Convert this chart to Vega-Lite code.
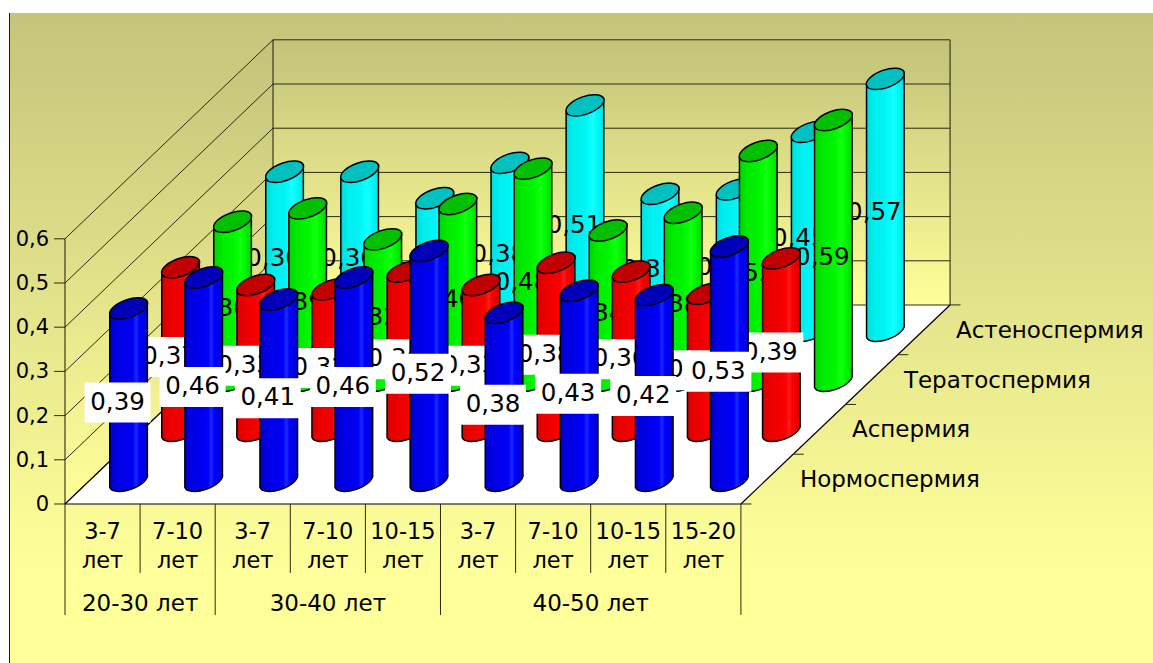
{
  "$schema": "https://vega.github.io/schema/vega-lite/v6.json",
  "width": 1153,
  "height": 663,
  "padding": 0,
  "autosize": {"type": "none"},
  "background": "white",
  "config": {
    "view": {"stroke": null},
    "font": "DejaVu Sans",
    "text": {"font": "DejaVu Sans", "color": "black"}
  },
  "datasets": {
    "bars": [
      {"group":"20-30 лет","period":"3-7 лет","slot":0,"series":"Нормоспермия","depth":0,"value":0.39},
      {"group":"20-30 лет","period":"7-10 лет","slot":1,"series":"Нормоспермия","depth":0,"value":0.46},
      {"group":"30-40 лет","period":"3-7 лет","slot":2,"series":"Нормоспермия","depth":0,"value":0.41},
      {"group":"30-40 лет","period":"7-10 лет","slot":3,"series":"Нормоспермия","depth":0,"value":0.46},
      {"group":"30-40 лет","period":"10-15 лет","slot":4,"series":"Нормоспермия","depth":0,"value":0.52},
      {"group":"40-50 лет","period":"3-7 лет","slot":5,"series":"Нормоспермия","depth":0,"value":0.38},
      {"group":"40-50 лет","period":"7-10 лет","slot":6,"series":"Нормоспермия","depth":0,"value":0.43},
      {"group":"40-50 лет","period":"10-15 лет","slot":7,"series":"Нормоспермия","depth":0,"value":0.42},
      {"group":"40-50 лет","period":"15-20 лет","slot":8,"series":"Нормоспермия","depth":0,"value":0.53},
      {"group":"20-30 лет","period":"3-7 лет","slot":0,"series":"Аспермия","depth":1,"value":0.37},
      {"group":"20-30 лет","period":"7-10 лет","slot":1,"series":"Аспермия","depth":1,"value":0.33},
      {"group":"30-40 лет","period":"3-7 лет","slot":2,"series":"Аспермия","depth":1,"value":0.32},
      {"group":"30-40 лет","period":"7-10 лет","slot":3,"series":"Аспермия","depth":1,"value":0.36},
      {"group":"30-40 лет","period":"10-15 лет","slot":4,"series":"Аспермия","depth":1,"value":0.33},
      {"group":"40-50 лет","period":"3-7 лет","slot":5,"series":"Аспермия","depth":1,"value":0.38},
      {"group":"40-50 лет","period":"7-10 лет","slot":6,"series":"Аспермия","depth":1,"value":0.36},
      {"group":"40-50 лет","period":"10-15 лет","slot":7,"series":"Аспермия","depth":1,"value":0.31},
      {"group":"40-50 лет","period":"15-20 лет","slot":8,"series":"Аспермия","depth":1,"value":0.39},
      {"group":"20-30 лет","period":"3-7 лет","slot":0,"series":"Тератоспермия","depth":2,"value":0.36},
      {"group":"20-30 лет","period":"7-10 лет","slot":1,"series":"Тератоспермия","depth":2,"value":0.39},
      {"group":"30-40 лет","period":"3-7 лет","slot":2,"series":"Тератоспермия","depth":2,"value":0.32},
      {"group":"30-40 лет","period":"7-10 лет","slot":3,"series":"Тератоспермия","depth":2,"value":0.4},
      {"group":"30-40 лет","period":"10-15 лет","slot":4,"series":"Тератоспермия","depth":2,"value":0.48},
      {"group":"40-50 лет","period":"3-7 лет","slot":5,"series":"Тератоспермия","depth":2,"value":0.34},
      {"group":"40-50 лет","period":"7-10 лет","slot":6,"series":"Тератоспермия","depth":2,"value":0.38},
      {"group":"40-50 лет","period":"10-15 лет","slot":7,"series":"Тератоспермия","depth":2,"value":0.52},
      {"group":"40-50 лет","period":"15-20 лет","slot":8,"series":"Тератоспермия","depth":2,"value":0.59},
      {"group":"20-30 лет","period":"3-7 лет","slot":0,"series":"Астеноспермия","depth":3,"value":0.36},
      {"group":"20-30 лет","period":"7-10 лет","slot":1,"series":"Астеноспермия","depth":3,"value":0.36},
      {"group":"30-40 лет","period":"3-7 лет","slot":2,"series":"Астеноспермия","depth":3,"value":0.3},
      {"group":"30-40 лет","period":"7-10 лет","slot":3,"series":"Астеноспермия","depth":3,"value":0.38},
      {"group":"30-40 лет","period":"10-15 лет","slot":4,"series":"Астеноспермия","depth":3,"value":0.51},
      {"group":"40-50 лет","period":"3-7 лет","slot":5,"series":"Астеноспермия","depth":3,"value":0.31},
      {"group":"40-50 лет","period":"7-10 лет","slot":6,"series":"Астеноспермия","depth":3,"value":0.32},
      {"group":"40-50 лет","period":"10-15 лет","slot":7,"series":"Астеноспермия","depth":3,"value":0.45},
      {"group":"40-50 лет","period":"15-20 лет","slot":8,"series":"Астеноспермия","depth":3,"value":0.57}
    ],
    "periods": [
      {"period":"3-7 лет","slot":0},{"period":"7-10 лет","slot":1},{"period":"3-7 лет","slot":2},
      {"period":"7-10 лет","slot":3},{"period":"10-15 лет","slot":4},{"period":"3-7 лет","slot":5},
      {"period":"7-10 лет","slot":6},{"period":"10-15 лет","slot":7},{"period":"15-20 лет","slot":8}
    ],
    "groups": [
      {"group":"20-30 лет","first":0,"last":2},
      {"group":"30-40 лет","first":2,"last":5},
      {"group":"40-50 лет","first":5,"last":9}
    ],
    "edges": [
      {"slot":0,"kind":"group"},{"slot":1,"kind":"period"},{"slot":2,"kind":"group"},{"slot":3,"kind":"period"},
      {"slot":4,"kind":"period"},{"slot":5,"kind":"group"},{"slot":6,"kind":"period"},{"slot":7,"kind":"period"},
      {"slot":8,"kind":"period"},{"slot":9,"kind":"group"}
    ],
    "levels": [{"level":0},{"level":0.1},{"level":0.2},{"level":0.3},{"level":0.4},{"level":0.5},{"level":0.6}],
    "seriesNames": [
      {"series":"Нормоспермия","depth":0},{"series":"Аспермия","depth":1},
      {"series":"Тератоспермия","depth":2},{"series":"Астеноспермия","depth":3}
    ],
    "depthTicks": [{"depth":0},{"depth":1},{"depth":2},{"depth":3},{"depth":4}],
    "backdrop": [{"slot":-0.739,"low":-0.35973,"high":1.1109},{"slot":14.48735,"low":-0.35973,"high":1.1109}],
    "sideWall": [{"slot":0,"low":0,"high":0.6},{"slot":2.77,"low":0.4502,"high":1.0502}],
    "backWall": [{"slot":2.77,"low":0.4502,"high":1.0502},{"slot":11.785,"low":0.4502,"high":1.0502}],
    "floor": [
      {"slot":0,"low":0,"high":0},{"slot":2.77,"low":0,"high":0.4502},
      {"slot":9,"low":0,"high":0.4502},{"slot":11.785,"low":0.4502,"high":0.4502}
    ],
    "verticals": [
      {"slot":-0.739,"low":-0.35973,"high":1.1109},
      {"slot":0,"low":0,"high":0.6},
      {"slot":2.77,"low":0.4502,"high":1.0502},
      {"slot":11.785,"low":0.4502,"high":1.0502}
    ],
    "floorEdges": [
      {"a":0,"b":9,"low":0,"high":0},{"a":9,"b":11.785,"low":0,"high":0.4502},{"a":0,"b":2.77,"low":0,"high":0.4502}
    ]
  },
  "layer": [
    {
      "data": {"name":"backdrop"},
      "mark": {"type":"area","color":{"gradient":"linear","x1":0,"y1":0,"x2":0,"y2":1,"stops":[{"offset":0,"color":"#c4c47c"},{"offset":0.85,"color":"#ffff99"},{"offset":1,"color":"#ffff99"}]}},
      "encoding": {
        "x":{"field":"slot","type":"quantitative","axis":null,"scale":{"domain":[-0.86551,14.48735],"nice":false,"zero":false}},
        "y":{"field":"high","type":"quantitative","axis":null,"scale":{"domain":[-0.35973,1.14027],"nice":false,"zero":false}},
        "y2":{"field":"low"}
      }
    },
    {
      "data": {"name":"sideWall"},
      "mark": {"type":"area","color":{"gradient":"linear","x1":0,"y1":0,"x2":0,"y2":1,"stops":[{"offset":0,"color":"#c2c27a"},{"offset":1,"color":"#ffff99"}]}},
      "encoding": {
        "x":{"field":"slot","type":"quantitative","axis":null},
        "y":{"field":"high","type":"quantitative","axis":null},
        "y2":{"field":"low"}
      }
    },
    {
      "data": {"name":"backWall"},
      "mark": {"type":"area","color":{"gradient":"linear","x1":0,"y1":0,"x2":0,"y2":1,"stops":[{"offset":0,"color":"#c2c27a"},{"offset":1,"color":"#ffff99"}]}},
      "encoding": {
        "x":{"field":"slot","type":"quantitative","axis":null},
        "y":{"field":"high","type":"quantitative","axis":null},
        "y2":{"field":"low"}
      }
    },
    {
      "data": {"name":"floor"},
      "mark": {"type":"area","color":"#ffffff"},
      "encoding": {
        "x":{"field":"slot","type":"quantitative","axis":null},
        "y":{"field":"high","type":"quantitative","axis":null},
        "y2":{"field":"low"}
      }
    },
    {
      "data": {"name":"levels"},
      "transform": [{"calculate":"datum.level+0.4502","as":"far"}],
      "mark": {"type":"rule","color":"#2b2b12","strokeWidth":1},
      "encoding": {
        "x":{"datum":0,"type":"quantitative","axis":null},"x2":{"datum":2.77},
        "y":{"field":"level","type":"quantitative","axis":null},
        "y2":{"field":"far"}
      }
    },
    {
      "data": {"name":"levels"},
      "transform": [{"calculate":"datum.level+0.4502","as":"far"}],
      "mark": {"type":"rule","color":"#2b2b12","strokeWidth":1},
      "encoding": {
        "x":{"datum":2.77,"type":"quantitative","axis":null},"x2":{"datum":11.785},
        "y":{"field":"far","type":"quantitative","axis":null}
      }
    },
    {
      "data": {"name":"levels"},
      "mark": {"type":"rule","color":"#2b2b12","strokeWidth":1},
      "encoding": {
        "x":{"datum":-0.146,"type":"quantitative","axis":null},"x2":{"datum":0},
        "y":{"field":"level","type":"quantitative","axis":null}
      }
    },
    {
      "data": {"name":"levels"},
      "transform": [
        {"calculate":"datum.level===0?'0':replace(format(datum.level,'.1f'),'.',',')","as":"tickText"},
        {"calculate":"-0.146","as":"labelAt"}
      ],
      "mark": {"type":"text","fontSize":21,"align":"right","baseline":"middle","dx":-5,"dy":1},
      "encoding": {
        "x":{"field":"labelAt","type":"quantitative","axis":null},
        "y":{"field":"level","type":"quantitative","axis":null},
        "text":{"field":"tickText","type":"nominal"}
      }
    },
    {
      "data": {"name":"verticals"},
      "mark": {"type":"rule","color":"#1a1a0a","strokeWidth":1},
      "encoding": {
        "x":{"field":"slot","type":"quantitative","axis":null},
        "y":{"field":"low","type":"quantitative","axis":null},
        "y2":{"field":"high"}
      }
    },
    {
      "data": {"name":"floorEdges"},
      "mark": {"type":"rule","color":"#000000","strokeWidth":1.2},
      "encoding": {
        "x":{"field":"a","type":"quantitative","axis":null},"x2":{"field":"b"},
        "y":{"field":"low","type":"quantitative","axis":null},"y2":{"field":"high"}
      }
    },
    {
      "data": {"name":"depthTicks"},
      "transform": [
        {"calculate":"9+datum.depth*0.6962","as":"from"},
        {"calculate":"datum.from+0.14","as":"to"},
        {"calculate":"datum.depth*0.1126","as":"at"}
      ],
      "mark": {"type":"rule","color":"#2b2b12","strokeWidth":1},
      "encoding": {
        "x":{"field":"from","type":"quantitative","axis":null},"x2":{"field":"to"},
        "y":{"field":"at","type":"quantitative","axis":null}
      }
    },
    {
      "data": {"name":"edges"},
      "transform": [
        {"calculate":"0","as":"start"},
        {"calculate":"datum.kind==='group'?-0.251:-0.156","as":"bottom"}
      ],
      "mark": {"type":"rule","color":"#2b2b12","strokeWidth":1},
      "encoding": {
        "x":{"field":"slot","type":"quantitative","axis":null},
        "y":{"field":"start","type":"quantitative","axis":null},
        "y2":{"field":"bottom"}
      }
    },
    {
      "data": {"name":"periods"},
      "transform": [
        {"calculate":"datum.slot+0.5","as":"mid"},
        {"calculate":"-0.0633","as":"row"}
      ],
      "mark": {"type":"text","fontSize":22.5,"lineBreak":" ","lineHeight":29,"baseline":"middle","align":"center"},
      "encoding": {
        "x":{"field":"mid","type":"quantitative","axis":null},
        "y":{"field":"row","type":"quantitative","axis":null},
        "text":{"field":"period","type":"nominal"}
      }
    },
    {
      "data": {"name":"groups"},
      "transform": [
        {"calculate":"(datum.first+datum.last)/2","as":"mid"},
        {"calculate":"-0.2262","as":"row"}
      ],
      "mark": {"type":"text","fontSize":23,"baseline":"middle","align":"center"},
      "encoding": {
        "x":{"field":"mid","type":"quantitative","axis":null},
        "y":{"field":"row","type":"quantitative","axis":null},
        "text":{"field":"group","type":"nominal"}
      }
    },
    {
      "data": {"name":"seriesNames"},
      "transform": [
        {"calculate":"9+(datum.depth+0.5)*0.6924","as":"px"},
        {"calculate":"(datum.depth+0.5)*0.1126","as":"py"}
      ],
      "mark": {"type":"text","fontSize":23,"baseline":"middle","align":"left","dx":33,"dy":1},
      "encoding": {
        "x":{"field":"px","type":"quantitative","axis":null},
        "y":{"field":"py","type":"quantitative","axis":null},
        "text":{"field":"series","type":"nominal"}
      }
    },
    {
      "data": {"name":"bars"},
      "transform": [
        {"calculate":"datum.slot+0.5+(datum.depth+0.5)*0.6924","as":"px"},
        {"calculate":"(datum.depth+0.5)*0.1131-0.004","as":"base"},
        {"calculate":"datum.base+datum.value","as":"top"},
        {"calculate":"datum.base+datum.value/2","as":"mid"},
        {"calculate":"datum.value*442","as":"h"},
        {"calculate":"'M-18.8,6.5L-18.8,'+(6.5-datum.h)+'L18.8,'+(-6.5-datum.h)+'L18.8,-6.5C20.18,-1.81 12.88,4.91 2.5,8.5C-7.88,12.09 -17.42,11.19 -18.8,6.5Z'","as":"barPath"},
        {"calculate":"replace(format(datum.value,'.2f'),'.',',')","as":"label"}
      ],
      "encoding": {"x":{"field":"px","type":"quantitative","axis":null}},
      "layer": [
        {
          "transform":[{"filter":"datum.depth===3"}],
          "mark":{"type":"point","filled":true,"opacity":1,"size":4,"stroke":"#000000","strokeWidth":1.5,
            "fill":{"gradient":"linear","x1":0,"y1":0,"x2":1,"y2":0,"stops":[{"offset":0,"color":"#00dcdc"},{"offset":0.2,"color":"#00eeee"},{"offset":0.5,"color":"#00f4f4"},{"offset":0.62,"color":"#00ffff"},{"offset":0.7,"color":"#18ffff"},{"offset":0.78,"color":"#00ffff"},{"offset":1,"color":"#00e0e0"}]}},
          "encoding":{"y":{"field":"base","type":"quantitative","axis":null},"shape":{"field":"barPath","type":"nominal","scale":null,"legend":null}}
        },
        {
          "transform":[{"filter":"datum.depth===3"}],
          "mark":{"type":"point","filled":true,"opacity":1,"size":4,"stroke":"#000000","strokeWidth":1.5,"fill":"#00c0c0",
            "shape":"M18.8,-6.5C20.18,-1.81 12.88,4.91 2.5,8.5C-7.88,12.09 -17.42,11.19 -18.8,6.5C-20.18,1.81 -12.88,-4.91 -2.5,-8.5C7.88,-12.09 17.42,-11.19 18.8,-6.5Z"},
          "encoding":{"y":{"field":"top","type":"quantitative","axis":null}}
        },
        {
          "transform":[{"filter":"datum.depth===3"}],
          "mark":{"type":"text","fontSize":24.5,"dx":-11,"dy":8,"baseline":"middle","align":"center"},
          "encoding":{"y":{"field":"mid","type":"quantitative","axis":null},"text":{"field":"label","type":"nominal"}}
        },
        {
          "transform":[{"filter":"datum.depth===2"}],
          "mark":{"type":"point","filled":true,"opacity":1,"size":4,"stroke":"#000000","strokeWidth":1.5,
            "fill":{"gradient":"linear","x1":0,"y1":0,"x2":1,"y2":0,"stops":[{"offset":0,"color":"#00d400"},{"offset":0.2,"color":"#00ea00"},{"offset":0.5,"color":"#00f400"},{"offset":0.62,"color":"#00ff00"},{"offset":0.7,"color":"#18ff18"},{"offset":0.78,"color":"#00ff00"},{"offset":1,"color":"#00d800"}]}},
          "encoding":{"y":{"field":"base","type":"quantitative","axis":null},"shape":{"field":"barPath","type":"nominal","scale":null,"legend":null}}
        },
        {
          "transform":[{"filter":"datum.depth===2"}],
          "mark":{"type":"point","filled":true,"opacity":1,"size":4,"stroke":"#000000","strokeWidth":1.5,"fill":"#00c000",
            "shape":"M18.8,-6.5C20.18,-1.81 12.88,4.91 2.5,8.5C-7.88,12.09 -17.42,11.19 -18.8,6.5C-20.18,1.81 -12.88,-4.91 -2.5,-8.5C7.88,-12.09 17.42,-11.19 18.8,-6.5Z"},
          "encoding":{"y":{"field":"top","type":"quantitative","axis":null}}
        },
        {
          "transform":[{"filter":"datum.depth===2"}],
          "mark":{"type":"text","fontSize":24.5,"dx":-11,"dy":8,"baseline":"middle","align":"center"},
          "encoding":{"y":{"field":"mid","type":"quantitative","axis":null},"text":{"field":"label","type":"nominal"}}
        },
        {
          "transform":[{"filter":"datum.depth===1"}],
          "mark":{"type":"point","filled":true,"opacity":1,"size":4,"stroke":"#000000","strokeWidth":1.5,
            "fill":{"gradient":"linear","x1":0,"y1":0,"x2":1,"y2":0,"stops":[{"offset":0,"color":"#d80000"},{"offset":0.2,"color":"#ea0000"},{"offset":0.5,"color":"#f40000"},{"offset":0.62,"color":"#ff0000"},{"offset":0.7,"color":"#ff1c1c"},{"offset":0.78,"color":"#ff0000"},{"offset":1,"color":"#d80000"}]}},
          "encoding":{"y":{"field":"base","type":"quantitative","axis":null},"shape":{"field":"barPath","type":"nominal","scale":null,"legend":null}}
        },
        {
          "transform":[{"filter":"datum.depth===1"}],
          "mark":{"type":"point","filled":true,"opacity":1,"size":4,"stroke":"#000000","strokeWidth":1.5,"fill":"#c00000",
            "shape":"M18.8,-6.5C20.18,-1.81 12.88,4.91 2.5,8.5C-7.88,12.09 -17.42,11.19 -18.8,6.5C-20.18,1.81 -12.88,-4.91 -2.5,-8.5C7.88,-12.09 17.42,-11.19 18.8,-6.5Z"},
          "encoding":{"y":{"field":"top","type":"quantitative","axis":null}}
        },
        {
          "transform":[{"filter":"datum.depth===1"}],
          "mark":{"type":"point","filled":true,"opacity":1,"size":4,"strokeWidth":0,"fill":"#ffffff","shape":"M-44,-12H22V28H-44Z"},
          "encoding":{"y":{"field":"mid","type":"quantitative","axis":null}}
        },
        {
          "transform":[{"filter":"datum.depth===1"}],
          "mark":{"type":"text","fontSize":24.5,"dx":-11,"dy":8,"baseline":"middle","align":"center"},
          "encoding":{"y":{"field":"mid","type":"quantitative","axis":null},"text":{"field":"label","type":"nominal"}}
        },
        {
          "transform":[{"filter":"datum.depth===0"}],
          "mark":{"type":"point","filled":true,"opacity":1,"size":4,"stroke":"#000000","strokeWidth":1.5,
            "fill":{"gradient":"linear","x1":0,"y1":0,"x2":1,"y2":0,"stops":[{"offset":0,"color":"#0000cc"},{"offset":0.2,"color":"#0000e4"},{"offset":0.5,"color":"#0000f0"},{"offset":0.62,"color":"#0000ff"},{"offset":0.7,"color":"#1a2cff"},{"offset":0.78,"color":"#0000ff"},{"offset":1,"color":"#0000d0"}]}},
          "encoding":{"y":{"field":"base","type":"quantitative","axis":null},"shape":{"field":"barPath","type":"nominal","scale":null,"legend":null}}
        },
        {
          "transform":[{"filter":"datum.depth===0"}],
          "mark":{"type":"point","filled":true,"opacity":1,"size":4,"stroke":"#000000","strokeWidth":1.5,"fill":"#0000b8",
            "shape":"M18.8,-6.5C20.18,-1.81 12.88,4.91 2.5,8.5C-7.88,12.09 -17.42,11.19 -18.8,6.5C-20.18,1.81 -12.88,-4.91 -2.5,-8.5C7.88,-12.09 17.42,-11.19 18.8,-6.5Z"},
          "encoding":{"y":{"field":"top","type":"quantitative","axis":null}}
        },
        {
          "transform":[{"filter":"datum.depth===0"}],
          "mark":{"type":"point","filled":true,"opacity":1,"size":4,"strokeWidth":0,"fill":"#ffffff","shape":"M-44,-12H22V28H-44Z"},
          "encoding":{"y":{"field":"mid","type":"quantitative","axis":null}}
        },
        {
          "transform":[{"filter":"datum.depth===0"}],
          "mark":{"type":"text","fontSize":24.5,"dx":-11,"dy":8,"baseline":"middle","align":"center"},
          "encoding":{"y":{"field":"mid","type":"quantitative","axis":null},"text":{"field":"label","type":"nominal"}}
        }
      ]
    }
  ]
}
